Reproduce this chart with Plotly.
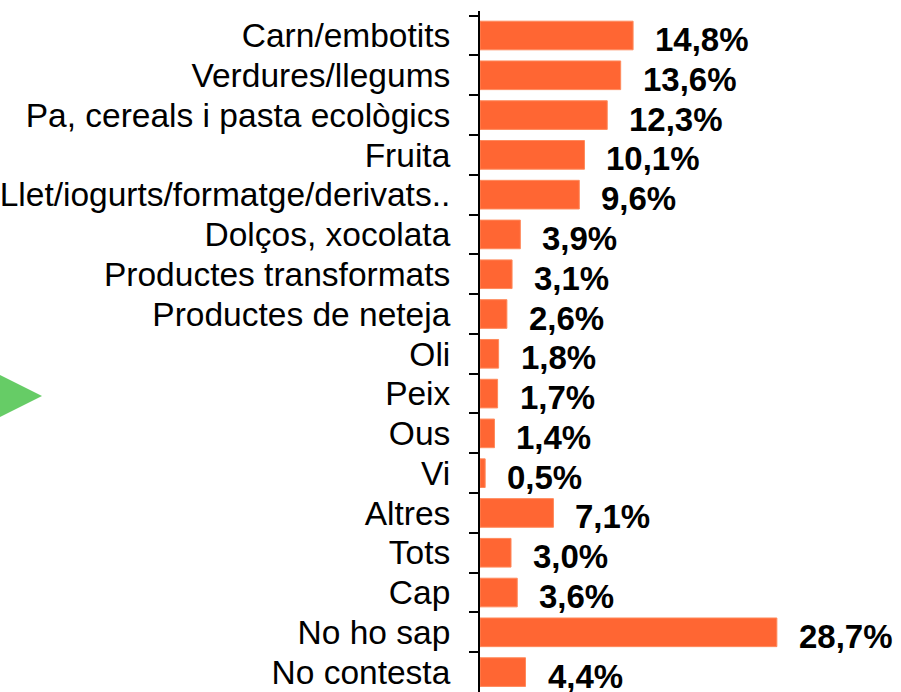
import plotly.graph_objects as go

categories = [
    "Carn/embotits",
    "Verdures/llegums",
    "Pa, cereals i pasta ecològics",
    "Fruita",
    "Llet/iogurts/formatge/derivats..",
    "Dolços, xocolata",
    "Productes transformats",
    "Productes de neteja",
    "Oli",
    "Peix",
    "Ous",
    "Vi",
    "Altres",
    "Tots",
    "Cap",
    "No ho sap",
    "No contesta",
]
values = [14.8, 13.6, 12.3, 10.1, 9.6, 3.9, 3.1, 2.6, 1.8, 1.7, 1.4, 0.5, 7.1, 3.0, 3.6, 28.7, 4.4]
value_labels = ["14,8%", "13,6%", "12,3%", "10,1%", "9,6%", "3,9%", "3,1%", "2,6%", "1,8%",
                "1,7%", "1,4%", "0,5%", "7,1%", "3,0%", "3,6%", "28,7%", "4,4%"]

W, H = 901, 692
ML, MT = 480, 11
PW, PH = W - ML, H - MT

fig = go.Figure(go.Bar(
    x=values, y=categories, orientation="h",
    marker=dict(color="#FF6633", line=dict(color="#FF8A5C", width=1)),
    width=0.72,
    hoverinfo="skip",
))

for c, v, t in zip(categories, values, value_labels):
    fig.add_annotation(x=v, y=c, text=t, showarrow=False, xanchor="left",
                       xshift=20, yshift=-4,
                       font=dict(family="Liberation Sans, Arial", size=33, color="black", weight="bold"))

# decorative green triangle on the left
def px2paper(px, py):
    return (px - ML) / PW, 1 - (py - MT) / PH

p1 = px2paper(0, 375)
p2 = px2paper(42, 396)
p3 = px2paper(0, 417)
fig.add_shape(type="path", xref="paper", yref="paper",
              path=f"M {p1[0]} {p1[1]} L {p2[0]} {p2[1]} L {p3[0]} {p3[1]} Z",
              fillcolor="#66CC66", line=dict(width=0), layer="above")

fig.update_layout(
    template="none",
    width=W, height=H,
    margin=dict(l=ML, r=0, t=MT, b=0, pad=0, autoexpand=False),
    plot_bgcolor="white", paper_bgcolor="white",
    showlegend=False,
    xaxis=dict(range=[0, 40.7], visible=False, fixedrange=True, automargin=False),
    yaxis=dict(
        autorange="reversed", automargin=False, fixedrange=True,
        tickmode="linear", tick0=0, dtick=1,
        showline=True, linecolor="black", linewidth=2,
        ticks="outside", tickson="boundaries", ticklen=9, tickwidth=2, tickcolor="black",
        ticklabelstandoff=21,
        tickfont=dict(family="Liberation Sans, Arial", size=33.5, color="black"),
        showgrid=False, zeroline=False,
    ),
    font=dict(family="Liberation Sans, Arial"),
)

fig.write_html("out.html", config={"displayModeBar": False},
               post_script="document.body.style.margin='0';document.body.style.padding='0';")
